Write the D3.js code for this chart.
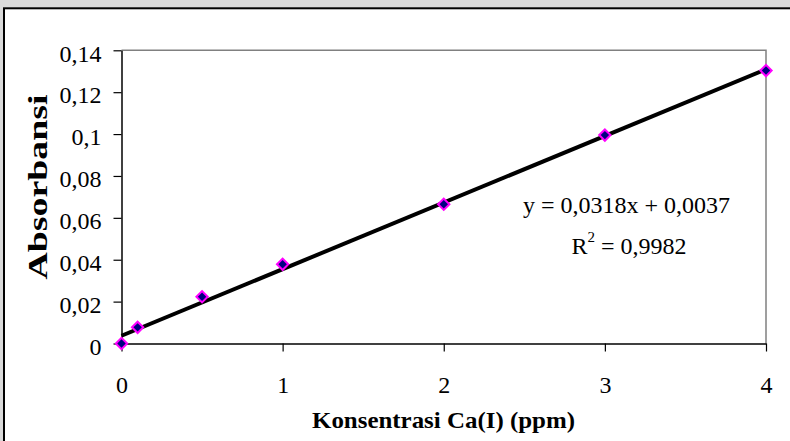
<!DOCTYPE html>
<html>
<head>
<meta charset="utf-8">
<script src="https://cdn.jsdelivr.net/npm/d3@7"></script>
<style>
  body { margin: 0; background: #d9d9d9; }
  svg { display: block; }
  .axis text { font-family: "Liberation Serif", "Times New Roman", serif; font-size: 24px; fill: #000; }
</style>
</head>
<body>
<svg></svg>
<script>
// data
let concentrations = [0, 0.1, 0.5, 1, 2, 3, 4];
let absorbances = [0, 0.0077, 0.0223, 0.0378, 0.0665, 0.0995, 0.1303];

// trendline as printed on the chart
let slope = 0.0318;
let intercept = 0.0037;
let equationText = 'y = 0,0318x + 0,0037';
let r2Value = '0,9982';

let xTicks = [0, 1, 2, 3, 4];
let yTicks = [0, 0.02, 0.04, 0.06, 0.08, 0.1, 0.12, 0.14];

// configuration of svg/plot area
let config = {
  'svg': {},
  'margin': {},
  'plot': {}
};

config.svg.width = 790;
config.svg.height = 441;

config.plot.x = 121.5;
config.plot.y = 50.3;
config.plot.width = 766 - config.plot.x;
config.plot.height = 343.5 - config.plot.y;

let svg = d3.select('svg');
svg.attr('width', config.svg.width);
svg.attr('height', config.svg.height);

// chart area box (runs off the right and bottom edges)
svg.append('rect')
  .attr('x', 4)
  .attr('y', 8.3)
  .attr('width', 800)
  .attr('height', 450)
  .style('fill', '#fff')
  .style('stroke', '#000')
  .style('stroke-width', 2);

// scales
let scale = {};
scale.x = d3.scaleLinear().domain([0, 4]).range([0, config.plot.width]);
scale.y = d3.scaleLinear().domain([0, 0.14]).range([config.plot.height, 0]);

let commaFormat = d => String(d).replace('.', ',');

let plot = svg.append('g')
  .attr('id', 'plot')
  .attr('transform', translate(config.plot.x, config.plot.y));

// grey frame on top and right
plot.append('path')
  .attr('d', 'M0,0H' + config.plot.width + 'V' + config.plot.height)
  .style('fill', 'none')
  .style('stroke', '#808080')
  .style('stroke-width', 1.5);

// axes
let axis = {};
axis.x = d3.axisBottom(scale.x).tickValues(xTicks).tickSize(8).tickPadding(25).tickSizeOuter(0).tickFormat(commaFormat);
axis.y = d3.axisLeft(scale.y).tickValues(yTicks).tickSize(8).tickPadding(12).tickSizeOuter(0).tickFormat(commaFormat);

let gx = plot.append('g')
  .attr('class', 'axis')
  .attr('transform', translate(0, config.plot.height))
  .call(axis.x);

let gy = plot.append('g')
  .attr('class', 'axis')
  .call(axis.y);

gx.selectAll('text').attr('dy', '0.68em');
gy.selectAll('text').attr('dy', '0.45em');

plot.selectAll('.axis .domain').style('stroke', '#000').style('stroke-width', 1.5);
plot.selectAll('.axis .tick line').style('stroke', '#000').style('stroke-width', 1.2);

// trendline
let line = d3.line()
  .x(d => scale.x(d))
  .y(d => scale.y(slope * d + intercept));

plot.append('path')
  .datum([0, 4])
  .attr('d', line)
  .style('fill', 'none')
  .style('stroke', '#000')
  .style('stroke-width', 4);

// markers
let diamond = d3.symbol().type(d3.symbolSquare).size(64);

plot.selectAll('path.point')
  .data(concentrations)
  .enter()
  .append('path')
  .attr('class', 'point')
  .attr('d', diamond)
  .attr('transform', (d, i) => translate(scale.x(d), scale.y(absorbances[i])) + ' rotate(45)')
  .style('fill', '#000080')
  .style('stroke', '#ff00ff')
  .style('stroke-width', 2);

// equation labels
let serif = '"Liberation Serif", "Times New Roman", serif';

svg.append('text')
  .attr('x', 626.5)
  .attr('y', 213)
  .style('font-family', serif)
  .style('font-size', '24px')
  .style('text-anchor', 'middle')
  .attr('textLength', 207)
  .attr('lengthAdjust', 'spacingAndGlyphs')
  .text(equationText);

let r2 = svg.append('text')
  .attr('x', 629)
  .attr('y', 254)
  .style('font-family', serif)
  .style('font-size', '24px')
  .style('text-anchor', 'middle');
r2.append('tspan').text('R');
r2.append('tspan').attr('dy', -12).style('font-size', '15px').text('2');
r2.append('tspan').attr('dy', 12).text(' = ' + r2Value);

// axis titles
svg.append('text')
  .attr('x', 443.5)
  .attr('y', 428)
  .style('font-family', serif)
  .style('font-size', '24px')
  .style('font-weight', 'bold')
  .style('text-anchor', 'middle')
  .attr('textLength', 263)
  .attr('lengthAdjust', 'spacingAndGlyphs')
  .text('Konsentrasi Ca(I) (ppm)');

svg.append('text')
  .attr('transform', translate(47, 187) + ' rotate(-90)')
  .style('font-family', serif)
  .style('font-size', '27px')
  .style('font-weight', 'bold')
  .style('text-anchor', 'middle')
  .attr('textLength', 185)
  .attr('lengthAdjust', 'spacingAndGlyphs')
  .text('Absorbansi');

// helper method to make translating easier
function translate(x, y) {
  return 'translate(' + x + ',' + y + ')';
}
</script>
</body>
</html>
